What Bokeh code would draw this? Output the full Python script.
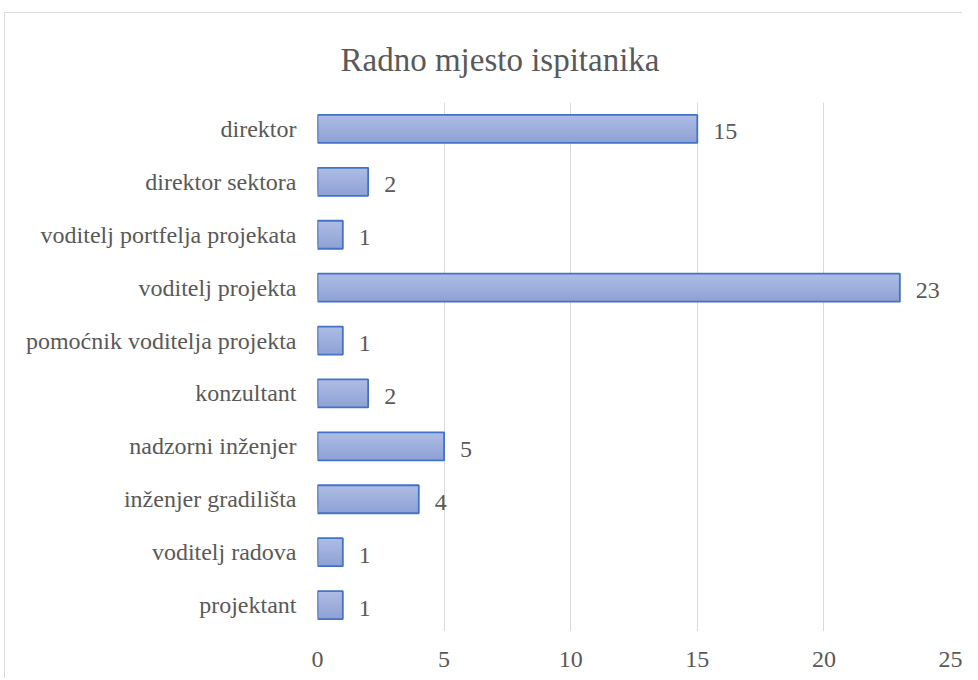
from bokeh.plotting import figure
from bokeh.models import FactorRange, ColumnDataSource, FixedTicker
from bokeh.transform import dodge
from bokeh.core.properties import value
from bokeh.embed import file_html
from bokeh.resources import INLINE

# ---- data ----
categories = ["direktor", "direktor sektora", "voditelj portfelja projekata",
              "voditelj projekta", "pomoćnik voditelja projekta", "konzultant",
              "nadzorni inženjer", "inženjer gradilišta", "voditelj radova", "projektant"]
counts = [15, 2, 1, 23, 1, 2, 5, 4, 1, 1]
x_ticks = [0, 5, 10, 15, 20, 25]
title_text = "Radno mjesto ispitanika"

FONT = "Liberation Serif"
GRAY = "#595959"

source = ColumnDataSource(dict(cat=categories, val=counts, lbl=[str(v) for v in counts]))

p = figure(width=957, height=665, frame_width=633, frame_height=529,
           min_border_left=312, min_border_right=12, min_border_top=89, min_border_bottom=47,
           y_range=FactorRange(*reversed(categories)), x_range=(0, 25),
           output_backend="svg", toolbar_location=None)
p.styles = {"margin-left": "4px", "margin-top": "12px",
            "border-left": "1px solid #D9D9D9", "border-top": "1px solid #D9D9D9"}

p.outline_line_color = None
p.background_fill_color = "white"
p.border_fill_color = "white"

p.title.text = title_text
p.title.align = "left"
p.title.offset = 23
p.title.standoff = 50
p.title.text_font = FONT
p.title.text_font_size = "33px"
p.title.text_font_style = "normal"
p.title.text_color = GRAY

# gradient bar: layered bars anchored at the top edge, lighter towards the top
bar_h = 0.53
n = 16
top_rgb = (0xAE, 0xBD, 0xE4)
bot_rgb = (0x8E, 0xA1, 0xD5)
for i in range(n):
    t = (i + 0.5) / n  # 0 bottom -> 1 top
    c = tuple(int(round(b + (a - b) * t)) for a, b in zip(top_rgb, bot_rgb))
    col = "#%02x%02x%02x" % c
    lo = -bar_h / 2 + i * bar_h / n
    hi = bar_h / 2
    p.hbar(y=dodge("cat", (lo + hi) / 2, range=p.y_range), right="val", left=0,
           height=hi - lo, source=source, fill_color=col, line_color=None)

p.hbar(y="cat", right="val", left=0, height=bar_h, source=source,
       fill_color=None, line_color="#4472C4", line_width=1.8)

p.text(x="val", y="cat", text="lbl", source=source, x_offset=16, y_offset=3,
       text_baseline="middle", text_align="left", text_color=GRAY,
       text_font=value(FONT), text_font_size="24px")

# axes
p.xaxis.ticker = FixedTicker(ticks=x_ticks)
for ax in (p.xaxis[0], p.yaxis[0]):
    ax.axis_line_color = None
    ax.major_tick_line_color = None
    ax.minor_tick_line_color = None
    ax.major_label_text_font = FONT
    ax.major_label_text_font_size = "24px"
    ax.major_label_text_color = GRAY
p.xaxis.major_label_standoff = 14
p.yaxis.major_label_standoff = 15

p.xgrid.grid_line_color = "#D9D9D9"
p.xgrid.grid_line_width = 1
p.ygrid.grid_line_color = None

open("out.html", "w").write(file_html(p, INLINE))
